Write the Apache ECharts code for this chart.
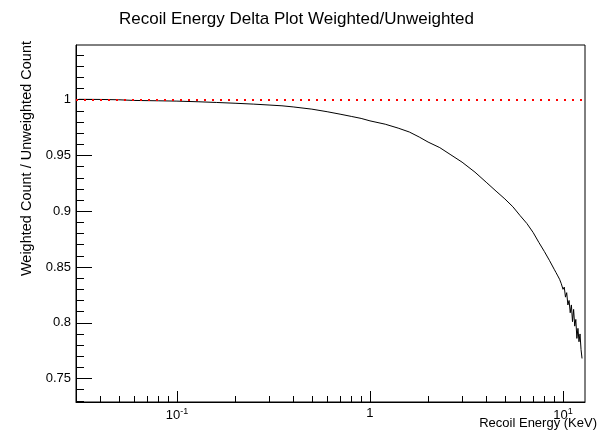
<!DOCTYPE html>
<html>
<head>
<meta charset="utf-8">
<script src="https://cdn.jsdelivr.net/npm/echarts@6/dist/echarts.min.js"></script>
<style>
  html, body { margin: 0; padding: 0; background: #fff; }
  #chart { width: 603px; height: 433px; }
</style>
</head>
<body>
<div id="chart"></div>
<script>
// Recoil energy (keV) at which the weighted/unweighted ratio was sampled
const energies = [
  0.031, 0.04, 0.05, 0.06, 0.08, 0.1, 0.13, 0.16, 0.2, 0.25, 0.3, 0.35, 0.4,
  0.5, 0.6, 0.7, 0.8, 0.9, 1.0, 1.2, 1.4, 1.6, 1.8, 2.0, 2.3, 2.6, 3.0, 3.5,
  4.0, 4.5, 5.0, 5.5, 6.0, 6.5, 7.0, 7.5, 8.0, 8.5, 9.0, 9.2, 9.4, 9.6, 9.8,
  10.0, 10.15, 10.3, 10.45, 10.6, 10.75, 10.9, 11.05, 11.2, 11.35, 11.5,
  11.65, 11.8, 11.95, 12.1, 12.25, 12.4, 12.55
];
// Weighted count / unweighted count for each energy above
const ratios = [
  1.0003, 1.0002, 0.9999, 0.9993, 0.999, 0.9987, 0.9981, 0.9975, 0.9968,
  0.996, 0.9952, 0.9945, 0.9935, 0.9915, 0.9892, 0.987, 0.985, 0.9832, 0.981,
  0.978, 0.9745, 0.971, 0.9665, 0.962, 0.957, 0.951, 0.944, 0.935, 0.926,
  0.918, 0.911, 0.904, 0.896, 0.889, 0.881, 0.872, 0.864, 0.856, 0.848,
  0.845, 0.842, 0.839, 0.835, 0.83, 0.832, 0.823, 0.827, 0.816, 0.82,
  0.809, 0.816, 0.801, 0.812, 0.797, 0.803, 0.786, 0.795, 0.783, 0.79, 0.776,
  0.768
];
// Reference level (ratio of one)
const unityLevel = 1;

// Axis ranges and tick positions
const xRange = [0.03, 13];
const yRange = [0.729, 1.049];
const xMajorTicks = [0.1, 1, 10];
const xMinorTicks = [0.04, 0.05, 0.06, 0.07, 0.08, 0.09,
                     0.2, 0.3, 0.4, 0.5, 0.6, 0.7, 0.8, 0.9,
                     2, 3, 4, 5, 6, 7, 8, 9];
const yMajorTicks = [0.75, 0.8, 0.85, 0.9, 0.95, 1];
const yMinorTicks = [0.73, 0.74, 0.76, 0.77, 0.78, 0.79, 0.81, 0.82, 0.83, 0.84,
                     0.86, 0.87, 0.88, 0.89, 0.91, 0.92, 0.93, 0.94,
                     0.96, 0.97, 0.98, 0.99, 1.01, 1.02, 1.03, 1.04];

const FONT = '"Liberation Sans", Arial, Helvetica, sans-serif';
const INK = '#000';

const chart = echarts.init(document.getElementById('chart'), null, { renderer: 'canvas' });

function xLabel(v) {
  if (Math.abs(v - 1) < 1e-9) return '{b|1}';
  const p = Math.round(Math.log10(v));
  return '{b|10}{s|' + p + '}';
}

chart.setOption({
  animation: false,
  backgroundColor: '#fff',
  title: {
    text: 'Recoil Energy Delta Plot Weighted/Unweighted',
    left: 114,
    top: 6,
    textStyle: { fontFamily: FONT, fontSize: 17, fontWeight: 'normal', color: INK }
  },
  grid: {
    left: 76, right: 18, top: 45, bottom: 31,
    show: true, borderColor: INK, borderWidth: 1, backgroundColor: 'transparent'
  },
  xAxis: [
    {
      type: 'log', logBase: 10, min: xRange[0], max: xRange[1], position: 'bottom',
      axisLine: { show: true, lineStyle: { color: INK, width: 1 } },
      axisTick: { show: true, inside: true, length: 11, customValues: xMajorTicks,
                  lineStyle: { color: INK, width: 1 } },
      axisLabel: {
        show: true, customValues: xMajorTicks, margin: 5,
        formatter: xLabel,
        rich: {
          b: { fontFamily: FONT, fontSize: 13, color: INK },
          s: { fontFamily: FONT, fontSize: 9, color: INK, padding: [0, 0, 7, 0] }
        }
      },
      splitLine: { show: false },
      minorTick: { show: false }
    },
    {
      type: 'log', logBase: 10, min: xRange[0], max: xRange[1], position: 'bottom',
      axisLine: { show: false },
      axisTick: { show: true, inside: true, length: 6, customValues: xMinorTicks,
                  lineStyle: { color: INK, width: 1 } },
      axisLabel: { show: false },
      splitLine: { show: false }
    }
  ],
  yAxis: [
    {
      type: 'value', min: yRange[0], max: yRange[1], position: 'left',
      axisLine: { show: true, lineStyle: { color: INK, width: 1 } },
      axisTick: { show: true, inside: true, length: 16, customValues: yMajorTicks,
                  lineStyle: { color: INK, width: 1 } },
      axisLabel: { show: true, customValues: yMajorTicks, margin: 5,
                   fontFamily: FONT, fontSize: 13, color: INK,
                   formatter: v => String(+v.toFixed(2)) },
      splitLine: { show: false }
    },
    {
      type: 'value', min: yRange[0], max: yRange[1], position: 'left',
      axisLine: { show: false },
      axisTick: { show: true, inside: true, length: 8, customValues: yMinorTicks,
                  lineStyle: { color: INK, width: 1 } },
      axisLabel: { show: false },
      splitLine: { show: false }
    }
  ],
  graphic: [
    {
      type: 'text', x: 27, y: 41, rotation: Math.PI / 2,
      style: { text: 'Weighted Count / Unweighted Count', align: 'right',
               verticalAlign: 'middle', fontFamily: FONT, fontSize: 14.5, fill: INK }
    },
    {
      type: 'text', x: 597, y: 423,
      style: { text: 'Recoil Energy (KeV)', align: 'right',
               verticalAlign: 'middle', fontFamily: FONT, fontSize: 13, fill: INK }
    }
  ],
  series: [
    {
      type: 'line',
      xAxisIndex: 0, yAxisIndex: 0,
      data: energies.map((e, i) => [e, ratios[i]]),
      showSymbol: false, symbol: 'none',
      lineStyle: { color: INK, width: 1 },
      z: 3,
      markLine: {
        silent: true, symbol: ['none', 'none'],
        label: { show: false },
        lineStyle: { color: '#ff0000', width: 2, type: [2, 6] },
        data: [{ yAxis: unityLevel }]
      }
    }
  ]
});
</script>
</body>
</html>
